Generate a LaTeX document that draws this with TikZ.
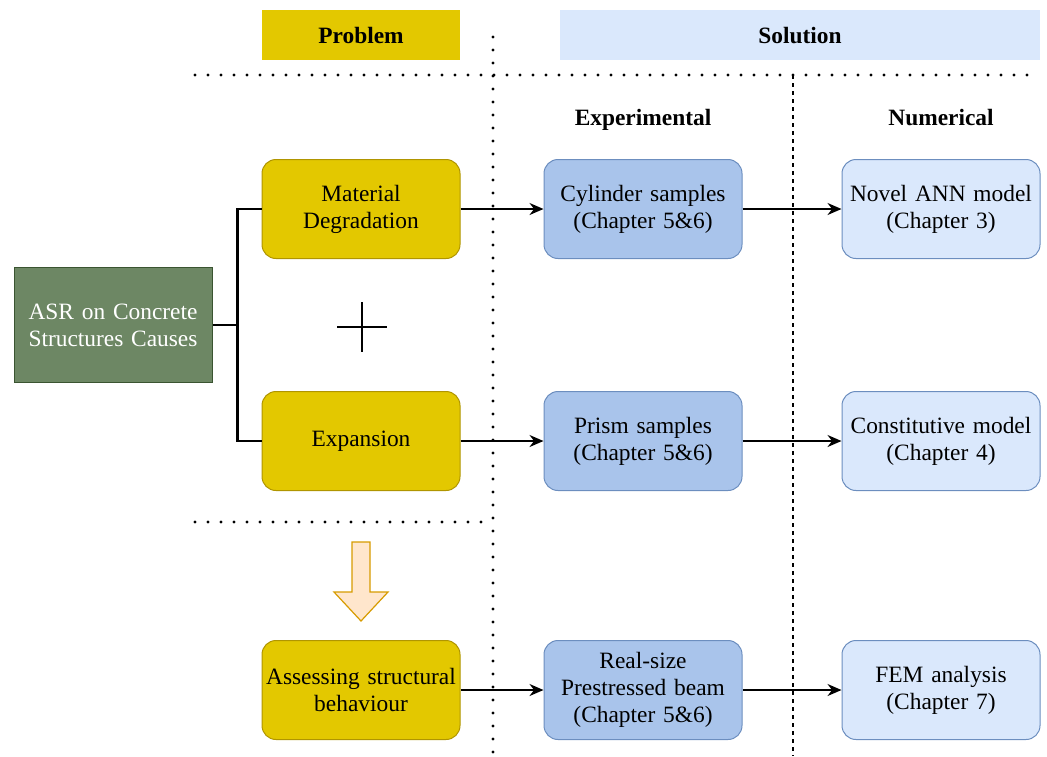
\documentclass[tikz,border=0pt]{standalone}
\usepackage{fontspec}
\setmainfont{Liberation Serif}
\usetikzlibrary{arrows.meta}

\definecolor{probfill}{HTML}{E3C800}
\definecolor{probdraw}{HTML}{B09500}
\definecolor{exptfill}{HTML}{A9C4EB}
\definecolor{solfill}{HTML}{DAE8FC}
\definecolor{soldraw}{HTML}{6C8EBF}
\definecolor{asrfill}{HTML}{6D8764}
\definecolor{asrdraw}{HTML}{3A5431}
\definecolor{arrfill}{HTML}{FFE6CC}
\definecolor{arrdraw}{HTML}{D79B00}

\newcommand{\diagfont}{\fontsize{11.7}{13.6}\selectfont}

\tikzstyle{prob} = [rectangle, rounded corners=7pt, minimum width=99pt, text width=97pt, inner sep=1pt, minimum height=49.5pt, text centered, fill=probfill, draw=probdraw, line width=0.5pt]
\tikzstyle{expt} = [prob, fill=exptfill, draw=soldraw]
\tikzstyle{numr} = [prob, fill=solfill, draw=soldraw]
\tikzstyle{asr} = [rectangle, minimum width=99pt, text width=97pt, inner sep=1pt, minimum height=57.5pt, text centered, fill=asrfill, draw=asrdraw, line width=0.5pt, text=white]
\tikzstyle{hd} = [rectangle, minimum height=25pt, text height=8pt, text depth=0pt, font=\diagfont\bfseries]
\tikzstyle{sep} = [line width=1.6pt, dash pattern=on 0pt off 6.5pt, line cap=round]
\tikzstyle{colsep} = [line width=0.6pt, dash pattern=on 2pt off 2pt]

\begin{document}
\begin{tikzpicture}[x=0.5pt, y=-0.5pt, node distance=141pt, font=\diagfont, >={Stealth[length=7pt, width=6pt]}]
\useasboundingbox (0,0) rectangle (1047,756);

\draw[sep] (195,75) -- (1040,75);
\draw[sep] (493,37) -- (493,756);
\draw[sep] (195,522) -- (493,522);
\draw[colsep] (793,75) -- (793,756);

\node[hd, fill=probfill, minimum width=99pt] (Problem) at (361,35) {Problem};
\node[hd, fill=solfill, minimum width=240pt] (Solution) at (800,35) {Solution};
\node[hd] (Experimental) at (643,117) {Experimental};
\node[hd] (Numerical) [right of=Experimental, xshift=8pt] {Numerical};

\node[asr] (ASR) at (113,325) {ASR on Concrete\\Structures Causes};

\node[prob] (Material) at (361,209) {Material\\Degradation};
\node[expt] (Cylinder) [right of=Material] {Cylinder samples\\(Chapter 5\&6)};
\node[numr] (ANN) [right of=Cylinder, xshift=8pt] {Novel ANN model\\(Chapter 3)};

\node[prob] (Expansion) [below of=Material, node distance=116pt] {Expansion};
\node[expt] (Prism) [right of=Expansion] {Prism samples\\(Chapter 5\&6)};
\node[numr] (Constitutive) [right of=Prism, xshift=8pt] {Constitutive model\\(Chapter 4)};

\node[prob] (Assessing) [below of=Expansion, node distance=124.5pt] {Assessing structural\\behaviour};
\node[expt] (Beam) [right of=Assessing] {Real-size\\Prestressed beam\\(Chapter 5\&6)};
\node[numr] (FEM) [right of=Beam, xshift=8pt] {FEM analysis\\(Chapter 7)};

\draw[line width=0.7pt] (337,327) -- (387,327) (362,302) -- (362,352);
\draw[fill=arrfill, draw=arrdraw, line width=0.6pt] (352,542) -- (370,542) -- (370,592) -- (388,592) -- (361,621) -- (334,592) -- (352,592) -- cycle;

\draw[line width=1.2pt] (ASR.east) -- ++(25,0) coordinate (fork);
\draw[line width=1.2pt] (Material.west) -| (fork) |- (Expansion.west);

\path[->, line width=0.7pt]
  (Material) edge (Cylinder)
  (Cylinder) edge (ANN)
  (Expansion) edge (Prism)
  (Prism) edge (Constitutive)
  (Assessing) edge (Beam)
  (Beam) edge (FEM)
  ;

\end{tikzpicture}
\end{document}
